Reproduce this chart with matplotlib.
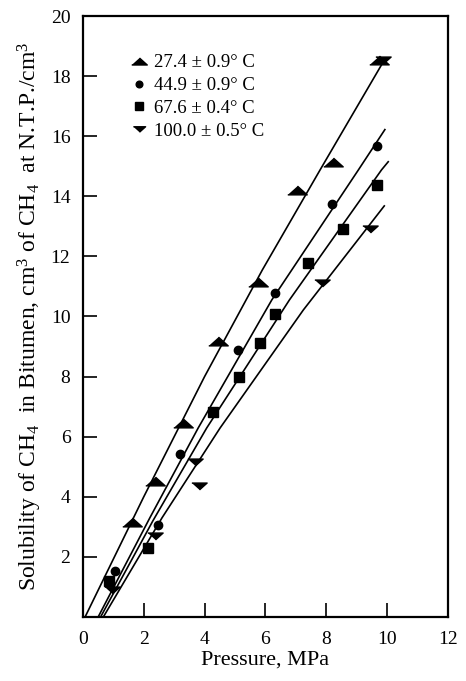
import matplotlib.pyplot as plt
from matplotlib.ticker import FixedLocator

plt.rcParams['font.family'] = ['Liberation Serif', 'DejaVu Serif']
plt.rcParams['mathtext.fontset'] = 'custom'
plt.rcParams['mathtext.rm'] = 'Liberation Serif'
plt.rcParams['mathtext.it'] = 'Liberation Serif:italic'

# measured points
p_27 = [1.61, 2.37, 3.30, 4.45, 5.77, 7.03, 8.23, 9.75]
s_27 = [3.16, 4.52, 6.44, 9.18, 11.16, 14.21, 15.13, 18.52]
p_45 = [1.07, 2.48, 3.19, 5.09, 6.32, 8.18, 9.66]
s_45 = [1.54, 3.06, 5.41, 8.87, 10.77, 13.74, 15.67]
p_68 = [0.87, 2.13, 4.29, 5.13, 5.82, 6.32, 7.41, 8.54, 9.66]
s_68 = [1.21, 2.29, 6.83, 7.97, 9.13, 10.07, 11.79, 12.91, 14.38]
p_100 = [0.94, 2.37, 3.83, 3.68, 7.85, 9.44, 9.88]
s_100 = [0.90, 2.70, 4.36, 5.17, 11.13, 12.91, 18.52]

# fitted curves
cp_27 = [0.07, 2.0, 4.0, 5.9, 7.80, 9.88]
cs_27 = [0.0, 4.0, 8.0, 11.55, 14.88, 18.48]
cp_45 = [0.50, 2.2, 3.79, 6.21, 9.06, 9.93]
cs_45 = [0.0, 3.3, 6.29, 10.55, 14.88, 16.22]
cp_68 = [0.58, 2.3, 4.07, 6.79, 9.82, 10.04]
cs_68 = [0.0, 3.2, 6.29, 10.55, 14.88, 15.15]
cp_100 = [0.67, 2.6, 4.51, 7.25, 9.91]
cs_100 = [0.0, 3.3, 6.29, 10.22, 13.68]

labels = ['27.4 \u00b1 0.9\u00b0 C', '44.9 \u00b1 0.9\u00b0 C',
          '67.6 \u00b1 0.4\u00b0 C', '100.0 \u00b1 0.5\u00b0 C']

tri_up = [(-1, -0.45), (1, -0.45), (0, 0.45)]
tri_dn = [(-1, 0.45), (1, 0.45), (0, -0.45)]

fig = plt.figure(figsize=(4.66, 6.81), dpi=100)
ax = fig.add_axes([0.178, 0.094, 0.783, 0.8825])

ax.plot(cp_27, cs_27, color='black', lw=1.2)
ax.plot(cp_45, cs_45, color='black', lw=1.2)
ax.plot(cp_68, cs_68, color='black', lw=1.2)
ax.plot(cp_100, cs_100, color='black', lw=1.2)

h1, = ax.plot(p_27, s_27, ls='none', marker=tri_up, ms=14, color='black')
h2, = ax.plot(p_45, s_45, ls='none', marker='o', ms=6, color='black')
h3, = ax.plot(p_68, s_68, ls='none', marker='s', ms=6.5, color='black')
h4, = ax.plot(p_100, s_100, ls='none', marker=tri_dn, ms=11, color='black')

leg = ax.legend([h1, h2, h3, h4], labels, loc='upper left',
                bbox_to_anchor=(0.112, 0.952), frameon=False, fontsize=13.5,
                handlelength=0.6, handletextpad=0.5, labelspacing=0.3,
                borderpad=0, markerscale=0.8)

ax.set_xlim(0, 12)
ax.set_ylim(0, 20)
ax.xaxis.set_major_locator(FixedLocator([0, 2, 4, 6, 8, 10, 12]))
ax.yaxis.set_major_locator(FixedLocator([2, 4, 6, 8, 10, 12, 14, 16, 18, 20]))
ax.tick_params(direction='in', length=10, width=1.2, labelsize=14,
               top=False, right=False)
ax.tick_params(axis='x', pad=10)
ax.tick_params(axis='y', pad=9)
for sp in ax.spines.values():
    sp.set_linewidth(1.6)

ax.set_xlabel('Pressure, MPa', fontsize=16, labelpad=2)
ax.set_ylabel('Solubility of CH$_4$  in Bitumen, cm$^3$ of CH$_4$  at N.T.P./cm$^3$',
              fontsize=17, labelpad=5)

fig.savefig('out.png', dpi=100)
